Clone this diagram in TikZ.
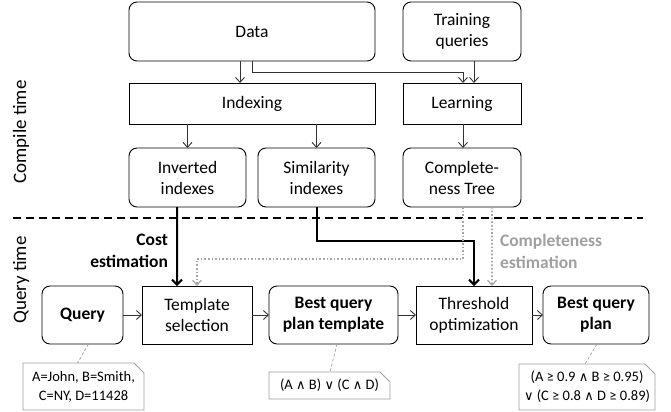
\documentclass[tikz,border=0pt]{standalone}
\usepackage{fontspec}
\setmainfont{Carlito}
\newfontfamily\symfont[Scale=0.9]{DejaVu Sans}
\newcommand{\andsym}{{\symfont ∧}}
\newcommand{\orsym}{{\symfont ∨}}
\usetikzlibrary{arrows.meta,shapes.misc,calc}
\definecolor{linegray}{HTML}{333333}
\definecolor{dotgray}{HTML}{A6A6A6}
\definecolor{notegray}{HTML}{A0A0A0}
\begin{document}
\begin{tikzpicture}[x=1bp,y=-1bp,
  every node/.style={inner sep=0pt, outer sep=0pt},
  base/.style={draw=black, line width=0.9bp, align=center, font=\fontsize{17.5bp}{21bp}\selectfont, text=black},
  rbox/.style={base, rounded corners=8bp},
  sbox/.style={base},
  notebox/.style={draw=notegray, line width=0.9bp, chamfered rectangle, chamfered rectangle corners=north east, chamfered rectangle xsep=5bp, chamfered rectangle ysep=5bp, align=center, font=\fontsize{14.5bp}{19bp}\selectfont},
  arr/.style={draw=linegray, line width=0.9bp, -{Straight Barb[length=5bp,width=9bp]}},
  thickarr/.style={draw=black, line width=2bp, -{Straight Barb[length=5bp,width=10bp,line width=2bp]}},
  dotarr/.style={draw=dotgray, line width=1.6bp, dotted, -{Straight Barb[length=5bp,width=9bp,line width=1.2bp]}},
  notelink/.style={draw=notegray, line width=0.7bp, dash pattern=on 3bp off 2bp},
  sidelabel/.style={rotate=90, font=\fontsize{19bp}{22bp}\selectfont},
]
\useasboundingbox (0,0) rectangle (671,411);

% compile-time boxes
\node[rbox, minimum width=246bp, minimum height=59bp] (data) at (252,31.5) {Data};
\node[rbox, minimum width=118bp, minimum height=59bp] (train) at (462,31.5) {Training\\queries};
\node[sbox, minimum width=246bp, minimum height=41bp] (idx) at (252,103.5) {Indexing};
\node[sbox, minimum width=118bp, minimum height=41bp] (learn) at (462,103.5) {Learning};
\node[rbox, minimum width=117bp, minimum height=59bp] (inv) at (187.5,177.5) {Inverted\\indexes};
\node[rbox, minimum width=117bp, minimum height=59bp] (sim) at (316.5,177.5) {Similarity\\indexes};
\node[rbox, minimum width=118bp, minimum height=59bp] (ctree) at (462,177.5) {Complete-\\ness Tree};

% query-time boxes
\node[rbox, minimum width=81bp, minimum height=58bp] (query) at (82.5,315) {\textbf{Query}};
\node[sbox, minimum width=110bp, minimum height=58bp] (tsel) at (197,315) {Template\\selection};
\node[rbox, minimum width=129bp, minimum height=58bp] (bqpt) at (333.5,315) {\textbf{Best query}\\\textbf{plan template}};
\node[sbox, minimum width=116bp, minimum height=58bp] (topt) at (474,315) {Threshold\\optimization};
\node[rbox, minimum width=106bp, minimum height=58bp] (bqp) at (596,315) {\textbf{Best query}\\\textbf{plan}};

% annotation notes
\node[notebox, minimum width=121bp, minimum height=47bp] (n1) at (83.5,386.5) {A=John, B=Smith,\\C=NY, D=11428};
\node[notebox, minimum width=121bp, minimum height=27bp] (n2) at (329.5,385.5) {(A \andsym{} B) \orsym{} (C \andsym{} D)};
\node[notebox, minimum width=132bp, minimum height=46bp] (n3) at (587,387) {(A ≥ 0.9 \andsym{} B ≥ 0.95)\\\orsym{} (C ≥ 0.8 \andsym{} D ≥ 0.89)};

% phase separator and phase labels
\coordinate (sepL) at (13,218);
\coordinate (sepR) at (643,218);
\draw[line width=1.1bp, dash pattern=on 8bp off 5bp] (sepL) -- (sepR);
\node[sidelabel] (ctime) at (21,132) {Compile time};
\node[sidelabel] (qtime) at (21,280) {Query time};

% compile-time flow
\draw[arr] ([xshift=-12bp]data.south) -- ([xshift=-12bp]idx.north);
\draw[arr] (data.south) -- ++(0,11) -| ([xshift=1bp]learn.north);
\draw[arr] ([xshift=12bp]train.south) -- ([xshift=12bp]learn.north);
\draw[arr] (idx.south -| inv.north) -- (inv.north);
\draw[arr] (idx.south -| sim.north) -- (sim.north);
\draw[arr] ([xshift=1bp]learn.south) -- ([xshift=1bp]ctree.north);

% query-time flow
\draw[arr] (query.east) -- (tsel.west);
\draw[arr] (tsel.east) -- (bqpt.west);
\draw[arr] (bqpt.east) -- (topt.west);
\draw[arr] (topt.east) -- (bqp.west);

% estimations feeding the query-time steps
\draw[thickarr] ([xshift=-10.5bp]inv.south) -- ([xshift=-20bp]tsel.north);
\draw[thickarr] (sim.south) -- ++(0,34) -| (topt.north);
\draw[dotarr] ([xshift=1bp]ctree.south) -- ++(0,52) -| (tsel.north);
\draw[dotarr] ([xshift=30bp]ctree.south) -- ([xshift=18bp]topt.north);

\node[anchor=east, align=right, font=\fontsize{17.5bp}{22bp}\selectfont\bfseries] (cost) at (168,251) {Cost\\estimation};
\node[anchor=west, align=left, text=notegray, font=\fontsize{17.5bp}{22bp}\selectfont\bfseries] (compl) at (500,251) {Completeness\\estimation};

% links to notes
\draw[notelink] ([xshift=6bp]query.south) -- ([xshift=-6bp]n1.north);
\draw[notelink] ([xshift=3.5bp]bqpt.south) -- ([xshift=0.5bp]n2.north);
\draw[notelink] ([xshift=1bp]bqp.south) -- ([xshift=-2bp]n3.north);
\end{tikzpicture}
\end{document}
